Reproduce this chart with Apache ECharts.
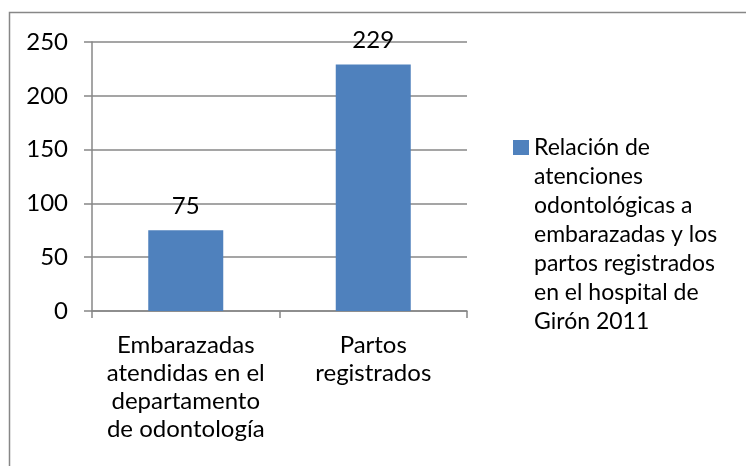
<!DOCTYPE html>
<html>
<head>
<meta charset="utf-8">
<script src="https://cdn.jsdelivr.net/npm/echarts@6/dist/echarts.min.js"></script>
<style>
  html, body { margin: 0; padding: 0; background: #fff; }
  #chart { width: 746px; height: 466px; }
</style>
</head>
<body>
<div id="chart"></div>
<script>
// datos
const categorias = [
  "Embarazadas\natendidas en el\ndepartamento\nde odontología",
  "Partos\nregistrados"
];
const valores = [75, 229];
const nombreSerie = "Relación de atenciones odontológicas a embarazadas y los partos registrados en el hospital de Girón 2011";
const lineasLeyenda = [
  "Relación de",
  "atenciones",
  "odontológicas a",
  "embarazadas y los",
  "partos registrados",
  "en el hospital de",
  "Girón 2011"
];

const fuente = "Lato";
const gris = "#878787";

const initChart = () => {
  const myChart = echarts.init(document.getElementById("chart"));

  // lineas vacias delante para que la primera linea quede a la altura del icono
  const relleno = new Array(lineasLeyenda.length - 1).fill(" ");

  myChart.setOption({
    animation: false,
    textStyle: { fontFamily: fuente },
    grid: { left: 92, right: 279, top: 42, bottom: 155 },
    graphic: [{
      type: "rect",
      shape: { x: 9.5, y: 12.5, width: 800, height: 500 },
      style: { fill: "none", stroke: gris, lineWidth: 1.5 },
      silent: true
    }],
    legend: {
      left: 508,
      top: -46,
      padding: 5,
      itemWidth: 16,
      itemHeight: 15,
      itemGap: 0,
      icon: "rect",
      formatter: () => relleno.concat(lineasLeyenda).join("\n"),
      textStyle: {
        fontFamily: fuente,
        fontSize: 23,
        color: "#000",
        lineHeight: 29
      }
    },
    xAxis: {
      type: "category",
      data: categorias,
      axisLine: { lineStyle: { color: gris, width: 1.5 } },
      axisTick: { show: true, length: 7, lineStyle: { color: gris, width: 1.5 } },
      axisLabel: {
        color: "#000",
        fontSize: 24,
        lineHeight: 28,
        margin: 20,
        interval: 0,
        fontFamily: fuente
      }
    },
    yAxis: {
      type: "value",
      min: 0,
      max: 250,
      interval: 50,
      axisLine: { show: true, lineStyle: { color: gris, width: 1.5 } },
      axisTick: { show: true, length: 8, lineStyle: { color: gris, width: 1.5 } },
      axisLabel: { color: "#000", fontSize: 24, margin: 24, fontFamily: fuente },
      splitLine: { lineStyle: { color: gris, width: 1.5 } }
    },
    series: [{
      name: nombreSerie,
      type: "bar",
      data: valores,
      barWidth: "40%",
      itemStyle: { color: "#4F81BD" },
      label: {
        show: true,
        position: "top",
        distance: 12,
        color: "#000",
        fontSize: 24,
        fontFamily: fuente
      }
    }]
  });
};

window.addEventListener("load", initChart);
</script>
</body>
</html>
